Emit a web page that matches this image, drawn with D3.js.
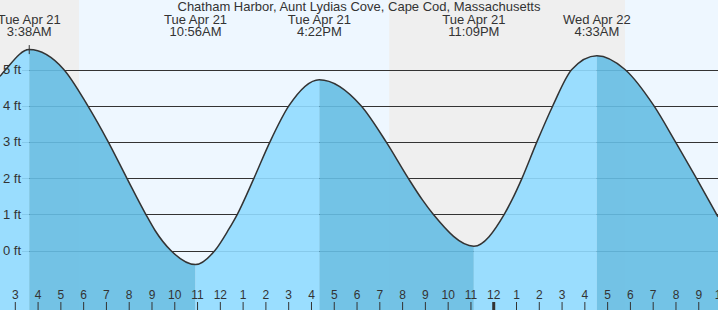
<html>
<head>
    <script src="https://d3js.org/d3.v7.min.js"></script>
    <style>
        body { margin: 0; }
        text { font-family: "Liberation Sans", Arial, sans-serif; fill: #333; }
    </style>
</head>
<body>
<svg id="tideChart" width="718" height="310"></svg>

<script>
    const title = "Chatham Harbor, Aunt Lydias Cove, Cape Cod, Massachusetts";

    // window of the chart
    const chartStart = "04-21 02:21";
    const chartEnd = "04-22 09:52";

    // sun down periods
    const nightStarts = ["04-21 02:21", "04-21 19:26"];
    const nightEnds = ["04-21 05:49", "04-22 05:47"];

    // high / low tides
    const eventTimes = ["04-21 03:38", "04-21 10:56", "04-21 16:22", "04-21 23:09", "04-22 04:33"];
    const eventHeights = [5.55, -0.39, 4.72, 0.12, 5.38];

    // water level (ft)
    const curveTimes = [
        "04-21 02:21", "04-21 02:36", "04-21 03:38", "04-21 05:09", "04-21 06:12", "04-21 07:06",
        "04-21 07:55", "04-21 08:45", "04-21 09:09", "04-21 09:51", "04-21 10:56", "04-21 11:47",
        "04-21 12:22", "04-21 12:46", "04-21 13:30", "04-21 14:12", "04-21 15:02", "04-21 16:22",
        "04-21 18:12", "04-21 19:18", "04-21 20:16", "04-21 20:54", "04-21 21:22", "04-21 23:09",
        "04-22 00:29", "04-22 00:49", "04-22 01:16", "04-22 01:55", "04-22 02:37", "04-22 03:27",
        "04-22 04:33", "04-22 05:47", "04-22 07:03", "04-22 08:00", "04-22 08:55", "04-22 09:52"
    ];
    const curveHeights = [
        4.81, 5.00, 5.55, 5.00, 4.00, 3.00,
        2.00, 1.00, 0.56, 0.00, -0.39, 0.00,
        0.56, 1.00, 2.00, 3.00, 4.00, 4.72,
        4.00, 3.00, 2.00, 1.39, 1.00, 0.12,
        1.00, 1.39, 2.00, 3.00, 4.00, 5.00,
        5.38, 5.00, 4.00, 3.00, 2.00, 0.93
    ];

    const yTicks = [0, 1, 2, 3, 4, 5];

    const width = 718, height = 310;
    const parse = d3.utcParse("%Y-%m-%d %H:%M");
    const T = s => parse("2020-" + s);

    const svg = d3.select("#tideChart");

    const x = d3.scaleUtc()
        .domain([T(chartStart), T(chartEnd)])
        .range([0, width]);

    const y = d3.scaleLinear()
        .domain([0, 5])
        .range([250.5, 69.5]);

    const points = curveTimes.map((t, i) => ({ t: T(t), ft: curveHeights[i] }));
    const smooth = d3.curveMonotoneX;

    // day / night background
    svg.append("rect")
        .attr("width", width).attr("height", height)
        .attr("fill", "#eef7ff");

    svg.append("g")
        .selectAll("rect")
        .data(nightStarts)
        .join("rect")
        .attr("x", d => x(T(d)))
        .attr("width", (d, i) => x(T(nightEnds[i])) - x(T(d)))
        .attr("y", 0)
        .attr("height", height)
        .attr("fill", "#efefef");

    // grid
    svg.append("g")
        .selectAll("line")
        .data(yTicks)
        .join("line")
        .attr("x1", 22).attr("x2", width)
        .attr("y1", d => Math.round(y(d)) + 0.5)
        .attr("y2", d => Math.round(y(d)) + 0.5)
        .attr("stroke", "#333")
        .attr("stroke-width", 1);

    // water
    const area = d3.area()
        .x(d => x(d.t))
        .y0(height)
        .y1(d => y(d.ft))
        .curve(smooth);

    svg.append("defs").append("clipPath")
        .attr("id", "tideClip")
        .append("path")
        .attr("d", area(points));

    // rising = light, falling = dark
    const bounds = [chartStart, ...eventTimes, chartEnd];
    const isHigh = i => eventHeights[i] > (eventHeights[i - 1] ?? eventHeights[i + 1]);
    const segs = d3.range(bounds.length - 1).map(i => ({
        a: T(bounds[i]),
        b: T(bounds[i + 1]),
        rising: i < eventTimes.length ? isHigh(i) : !isHigh(eventTimes.length - 1)
    }));

    svg.append("g")
        .attr("clip-path", "url(#tideClip)")
        .selectAll("rect")
        .data(segs)
        .join("rect")
        .attr("x", d => x(d.a))
        .attr("width", d => x(d.b) - x(d.a))
        .attr("y", 0)
        .attr("height", height)
        .attr("fill", d => d.rising ? "#90daff" : "#65bce3")
        .attr("fill-opacity", 0.9);

    svg.append("path")
        .datum(points)
        .attr("fill", "none")
        .attr("stroke", "#333")
        .attr("stroke-width", 1.5)
        .attr("d", d3.line().x(d => x(d.t)).y(d => y(d.ft)).curve(smooth));

    // marker on first high
    const mx = x(T(eventTimes[0])), my = y(eventHeights[0]);
    svg.append("path")
        .attr("d", `M${mx},${my - 4.5}V${my + 4.5}M${mx - 3},${my}H${mx + 3}`)
        .attr("stroke", "#333")
        .attr("stroke-width", 1);

    // y labels
    svg.append("g")
        .selectAll("text")
        .data(yTicks)
        .join("text")
        .attr("x", 3)
        .attr("y", d => y(d))
        .attr("dy", "0.35em")
        .style("font-size", "13px")
        .text(d => d + " ft");

    // hour axis (one extra hour so the cut-off label at the right edge shows)
    const hours = d3.utcHour.range(T(chartStart), d3.utcHour.offset(T(chartEnd), 1));
    const axis = svg.append("g")
        .attr("transform", `translate(0,${height})`)
        .call(d3.axisTop(x)
            .tickValues(hours)
            .tickFormat(d3.utcFormat("%-I"))
            .tickSizeInner(8)
            .tickSizeOuter(0)
            .tickPadding(3));
    axis.select(".domain").remove();
    axis.selectAll("line")
        .attr("stroke", "#333")
        .attr("stroke-width", d => d.getUTCHours() === 0 ? 3 : 1);
    axis.selectAll("text")
        .style("font-size", "12px")
        .style("font-family", "\"Liberation Sans\", Arial, sans-serif")
        .attr("fill", "#333");

    // high / low labels
    const ev = svg.append("g")
        .selectAll("g")
        .data(eventTimes)
        .join("g")
        .attr("transform", d => `translate(${x(T(d))},0)`);
    ev.append("text")
        .attr("text-anchor", "middle")
        .attr("y", 24)
        .style("font-size", "13px")
        .text(d => d3.utcFormat("%a %b %-d")(T(d)));
    ev.append("text")
        .attr("text-anchor", "middle")
        .attr("y", 36)
        .style("font-size", "13px")
        .text(d => d3.utcFormat("%-I:%M%p")(T(d)));

    svg.append("text")
        .attr("x", width / 2)
        .attr("y", 11)
        .attr("text-anchor", "middle")
        .style("font-size", "13px")
        .text(title);
</script>
</body>
</html>
